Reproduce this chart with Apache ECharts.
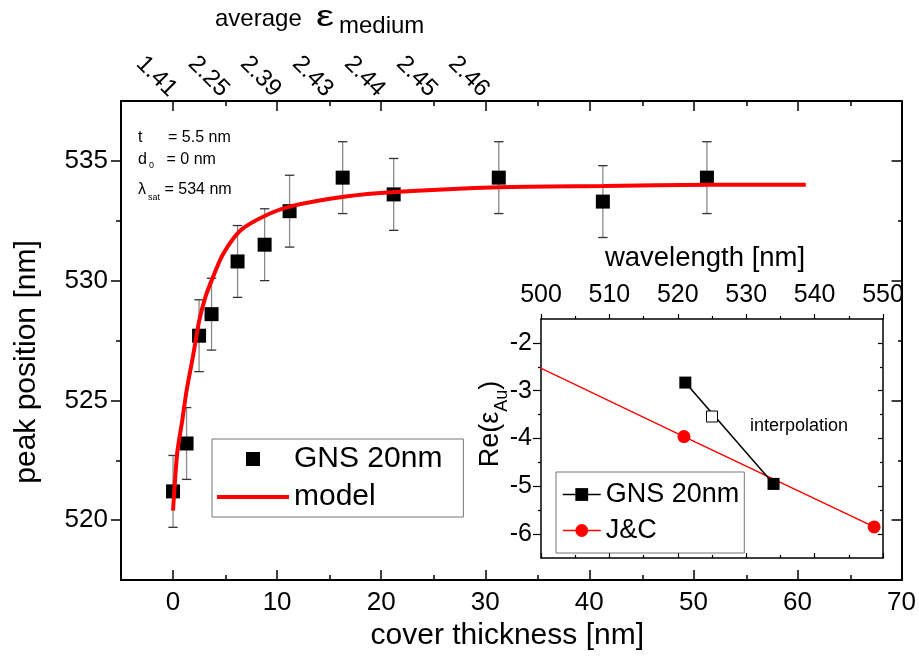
<!DOCTYPE html>
<html><head><meta charset="utf-8">
<script src="https://cdn.jsdelivr.net/npm/echarts@6/dist/echarts.min.js"></script>
<style>html,body{margin:0;padding:0;background:#fff}#c{width:919px;height:664px}</style>
</head><body><div id="c"></div><script>
const FONT = "'Liberation Sans', Arial, Helvetica, sans-serif";

// ---- main plot data ----
const thickness = [0, 1.3, 2.5, 3.7, 6.2, 8.8, 11.2, 16.3, 21.2, 31.3, 41.3, 51.3];
const peakPos   = [521.2, 523.2, 527.7, 528.6, 530.8, 531.5, 532.9, 534.3, 533.6, 534.3, 533.3, 534.3];
const peakErr   = [1.5, 1.5, 1.5, 1.5, 1.5, 1.5, 1.5, 1.5, 1.5, 1.5, 1.5, 1.5];
const modelX = [0, 0.4, 0.9, 1.3, 1.9, 2.5, 3.1, 3.7, 4.8, 6.5, 8.8, 11.3, 16.4, 21.3, 31.4, 41.4, 51.5, 60.8];
const modelY = [520.4, 522.8, 524.2, 525.4, 526.8, 528.3, 529.3, 530.0, 531.1, 532.1, 532.7, 533.1, 533.5, 533.7, 533.9, 533.95, 534.0, 534.0];

// top axis (average eps_medium)
const epsPositions = [0, 5, 10, 15, 20, 25, 30];
const epsLabels = ['1.41', '2.25', '2.39', '2.43', '2.44', '2.45', '2.46'];

// main ticks
const xMajor = [0, 10, 20, 30, 40, 50, 60, 70];
const xMinor = [5, 15, 25, 35, 45, 55, 65];
const yMajor = [520, 525, 530, 535];
const yMinor = [522.5, 527.5, 532.5];

// ---- inset data ----
const gnsWl = [521.1, 534.0];
const gnsRe = [-2.83, -4.95];
const interpWl = [525.0];
const interpRe = [-3.54];
const jcWl = [495.9, 520.9, 548.7];
const jcRe = [-2.25, -3.96, -5.85];

const wlMajor = [500, 510, 520, 530, 540, 550];
const wlMinor = [505, 515, 525, 535, 545];
const reMajor = [-6, -5, -4, -3, -2];
const reMinor = [-5.5, -4.5, -3.5, -2.5];

const legendNames = { 'GNS 20nm': 'GNS 20nm', 'model': 'model', 'gnsInset': 'GNS 20nm', 'jc': 'J&C' };

function axis(o) {
  return {
    type: 'value', gridIndex: o.grid, position: o.pos, min: o.min, max: o.max,
    axisLine: { show: !!o.line, onZero: false, lineStyle: { color: '#000', width: o.lw || 2 } },
    axisTick: { show: true, inside: !!o.inside, length: o.len, customValues: o.ticks,
      lineStyle: { color: '#000', width: o.tw || 1.5 } },
    axisLabel: o.labels ? Object.assign({ show: true, customValues: o.labels, color: '#000', fontFamily: FONT }, o.labelOpt) : { show: false },
    splitLine: { show: false },
    name: o.name || '', nameLocation: 'middle', nameGap: o.nameGap || 0,
    nameTextStyle: Object.assign({ color: '#000', fontFamily: FONT }, o.nameStyle || {})
  };
}

const xAxes = [
  axis({ grid: 0, pos: 'bottom', min: -5, max: 70, ticks: xMajor, len: 10, inside: true, line: true,
    labels: xMajor, labelOpt: { fontSize: 26, margin: 10 },
    name: 'cover thickness [nm]', nameGap: 34, nameStyle: { fontSize: 30, padding: [0, 8, 0, 0] } }),
  axis({ grid: 0, pos: 'top', min: -5, max: 70, ticks: xMajor, len: 10, inside: true, line: true,
    labels: epsPositions, labelOpt: { fontSize: 24, margin: 8, rotate: 45,
      formatter: v => epsLabels[epsPositions.indexOf(v)] } }),
  axis({ grid: 1, pos: 'bottom', min: -5, max: 70, ticks: xMinor, len: 5, inside: true }),
  axis({ grid: 1, pos: 'top', min: -5, max: 70, ticks: xMinor, len: 5, inside: true }),
  axis({ grid: 2, pos: 'top', min: 500, max: 550, ticks: wlMajor, len: 5, inside: false, line: true, lw: 1.5, tw: 1.2,
    labels: wlMajor, labelOpt: { fontSize: 25, margin: 11 },
    name: 'wavelength [nm]', nameGap: 47, nameStyle: { fontSize: 27.5, padding: [0, 14, 0, 0] } }),
  axis({ grid: 2, pos: 'bottom', min: 500, max: 550, ticks: wlMajor, len: 5, inside: true, line: true, lw: 1.5, tw: 1.2 }),
  axis({ grid: 3, pos: 'top', min: 500, max: 550, ticks: wlMinor, len: 3, inside: false, tw: 1.2 }),
  axis({ grid: 3, pos: 'bottom', min: 500, max: 550, ticks: wlMinor, len: 3, inside: true, tw: 1.2 })
];
const yAxes = [
  axis({ grid: 0, pos: 'left', min: 517.5, max: 537.5, ticks: yMajor, len: 10, inside: false, line: true,
    labels: yMajor, labelOpt: { fontSize: 26, margin: 13 } }),
  axis({ grid: 0, pos: 'right', min: 517.5, max: 537.5, ticks: yMajor, len: 10, inside: true, line: true }),
  axis({ grid: 1, pos: 'left', min: 517.5, max: 537.5, ticks: yMinor, len: 5, inside: false }),
  axis({ grid: 1, pos: 'right', min: 517.5, max: 537.5, ticks: yMinor, len: 5, inside: true }),
  axis({ grid: 2, pos: 'left', min: -6.5, max: -1.5, ticks: reMajor, len: 8, inside: false, line: true, lw: 1.5, tw: 1.2,
    labels: reMajor, labelOpt: { fontSize: 25, margin: 9 } }),
  axis({ grid: 2, pos: 'right', min: -6.5, max: -1.5, ticks: reMajor, len: 5, inside: true, line: true, lw: 1.5, tw: 1.2 }),
  axis({ grid: 3, pos: 'left', min: -6.5, max: -1.5, ticks: reMinor, len: 3, inside: false, tw: 1.2 }),
  axis({ grid: 3, pos: 'right', min: -6.5, max: -1.5, ticks: reMinor, len: 3, inside: true, tw: 1.2 })
];

const mainGrid = { left: 121, top: 101, width: 782, height: 479 };
const insetGrid = { left: 541, top: 319, width: 342, height: 239 };

// legend icon: centred 14x14 square inside a 72x14 box
const squareIcon = 'path://M0,0L0.01,0L0.01,0.01Z M72,14L71.99,14L71.99,13.99Z M29,0L43,0L43,14L29,14Z';

const txt = (x, y, text, size, extra) => Object.assign({ type: 'text', x: x, y: y, z: 10,
  style: { text: text, fontSize: size, fontFamily: FONT, fill: '#000', align: 'left', verticalAlign: 'middle', textAlign: 'left', textVerticalAlign: 'middle' } }, extra || {});

const option = {
  animation: false,
  backgroundColor: '#fff',
  textStyle: { fontFamily: FONT },
  grid: [
    Object.assign({ show: false }, mainGrid),
    Object.assign({ show: false }, mainGrid),
    Object.assign({ show: true, backgroundColor: '#fff', borderWidth: 0 }, insetGrid),
    Object.assign({ show: false }, insetGrid)
  ],
  xAxis: xAxes,
  yAxis: yAxes,
  legend: [
    {
      data: [{ name: 'GNS 20nm', icon: squareIcon }, { name: 'model', itemStyle: { opacity: 0 } }],
      orient: 'vertical', left: 212, top: 439, selectedMode: false,
      itemWidth: 72, itemHeight: 14, itemGap: 8, padding: [5, 21, 5, 3],
      backgroundColor: '#fff', borderColor: '#777', borderWidth: 1,
      lineStyle: { width: 'inherit' },
      formatter: n => legendNames[n],
      textStyle: { fontSize: 30, lineHeight: 30, color: '#000', fontFamily: FONT }
    },
    {
      data: ['gnsInset', 'jc'],
      orient: 'vertical', left: 556, top: 472, selectedMode: false,
      itemWidth: 38, itemHeight: 16, itemGap: 9, padding: [9, 5, 9, 6],
      backgroundColor: '#fff', borderColor: '#777', borderWidth: 1,
      lineStyle: { width: 'inherit' },
      formatter: n => legendNames[n],
      textStyle: { fontSize: 27, lineHeight: 27, color: '#000', fontFamily: FONT }
    }
  ],
  series: [
    {
      name: 'errors', type: 'custom', xAxisIndex: 0, yAxisIndex: 0, z: 2, clip: false,
      data: thickness.map((x, i) => [x, peakPos[i], peakErr[i]]),
      renderItem: function (params, api) {
        const x = api.value(0), y = api.value(1), e = api.value(2);
        const t = api.coord([x, y + e]), b = api.coord([x, y - e]);
        const hw = 4.7;
        return { type: 'group', children: [
          { type: 'line', shape: { x1: t[0], y1: t[1], x2: b[0], y2: b[1] }, style: { stroke: '#8a8a8a', lineWidth: 1.3 } },
          { type: 'line', shape: { x1: t[0] - hw, y1: t[1], x2: t[0] + hw, y2: t[1] }, style: { stroke: '#333', lineWidth: 1.3 } },
          { type: 'line', shape: { x1: b[0] - hw, y1: b[1], x2: b[0] + hw, y2: b[1] }, style: { stroke: '#333', lineWidth: 1.3 } }
        ] };
      }
    },
    {
      name: 'GNS 20nm', type: 'scatter', xAxisIndex: 0, yAxisIndex: 0, z: 3,
      symbol: 'rect', symbolSize: 14,
      itemStyle: { color: '#000', opacity: 1 },
      data: thickness.map((x, i) => [x, peakPos[i]])
    },
    {
      name: 'model', type: 'line', xAxisIndex: 0, yAxisIndex: 0, z: 4,
      showSymbol: false, symbol: 'circle', smooth: 0.25,
      lineStyle: { color: '#ff0000', width: 4 }, itemStyle: { color: '#ff0000' },
      data: modelX.map((x, i) => [x, modelY[i]])
    },
    {
      name: 'jc', type: 'line', xAxisIndex: 4, yAxisIndex: 4, z: 3, clip: true,
      symbol: 'circle', symbolSize: 13,
      lineStyle: { color: '#ff0000', width: 1.5 }, itemStyle: { color: '#ff0000' },
      data: jcWl.map((x, i) => [x, jcRe[i]])
    },
    {
      name: 'gnsInset', type: 'line', xAxisIndex: 4, yAxisIndex: 4, z: 4,
      symbol: 'rect', symbolSize: 12,
      lineStyle: { color: '#000', width: 1.5 }, itemStyle: { color: '#000' },
      data: gnsWl.map((x, i) => [x, gnsRe[i]])
    },
    {
      name: 'interpolation', type: 'scatter', xAxisIndex: 4, yAxisIndex: 4, z: 5,
      symbol: 'rect', symbolSize: 11,
      itemStyle: { color: '#fff', borderColor: '#000', borderWidth: 1, opacity: 1 },
      data: interpWl.map((x, i) => [x, interpRe[i]])
    }
  ],
  graphic: [
    txt(27, 362, 'peak position [nm]', 30, { rotation: Math.PI / 2,
      style: { text: 'peak position [nm]', fontSize: 30, fontFamily: FONT, fill: '#000', align: 'center', verticalAlign: 'middle', textAlign: 'center', textVerticalAlign: 'middle' } }),
    txt(215, 19.5, 'average', 24),
    txt(316, 18, 'ε', 30, { scaleX: 1.35 }),
    txt(339, 26, 'medium', 24),
    txt(138, 138, 't', 16),
    txt(168, 138, '= 5.5 nm', 16),
    txt(138, 160, 'd', 16),
    txt(149, 166, '0', 9),
    txt(166.5, 160, '= 0 nm', 16),
    txt(138, 190, 'λ', 16),
    txt(148, 197.5, 'sat', 9),
    txt(164.5, 190, '= 534 nm', 16),
    txt(750, 426, 'interpolation', 18),
    { type: 'text', x: 494, y: 424, rotation: Math.PI / 2, z: 10,
      style: { text: '{n|Re(ε}{s|Au}{n|)}', fontFamily: FONT, fill: '#000', align: 'center', verticalAlign: 'middle', textAlign: 'center', textVerticalAlign: 'middle',
        rich: { n: { fontSize: 27, lineHeight: 34, verticalAlign: 'top', fontFamily: FONT }, s: { fontSize: 18, lineHeight: 18, verticalAlign: 'bottom', fontFamily: FONT } } } }
  ]
};

const chart = echarts.init(document.getElementById('c'), null, { renderer: 'canvas' });
chart.setOption(option);
</script></body></html>
